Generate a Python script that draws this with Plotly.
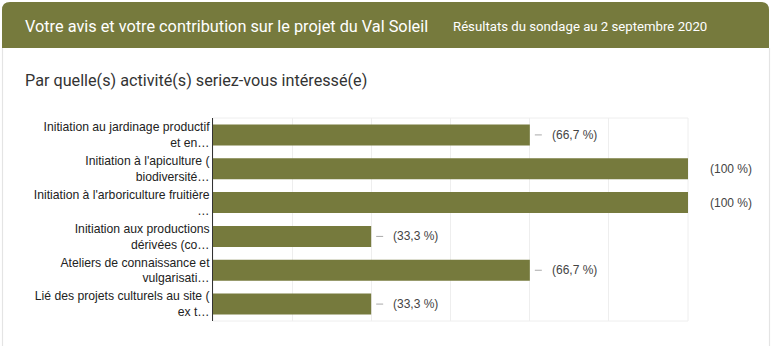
import plotly.graph_objects as go

categories = [
    "Initiation au jardinage productif<br>et en…",
    "Initiation à l'apiculture (<br>biodiversité…",
    "Initiation à l'arboriculture fruitière<br>…",
    "Initiation aux productions<br>dérivées (co…",
    "Ateliers de connaissance et<br>vulgarisati…",
    "Lié des projets culturels au site (<br>ex t…",
]
values = [66.7, 100, 100, 33.3, 66.7, 33.3]

title_text = "Votre avis et votre contribution sur le projet du Val Soleil"
subtitle_text = "Résultats du sondage au 2 septembre 2020"
question_text = "Par quelle(s) activité(s) seriez-vous intéressé(e)"

W, H = 772, 346
L, R, T, B = 213, 84, 118, 25
PW, PH = W - L - R, H - T - B
OLIVE = "#767a3d"


def px(x):
    return (x - L) / PW


def py(y):
    return (H - B - y) / PH


def fmt(v):
    s = ("%.1f" % v).replace(".", ",")
    if s.endswith(",0"):
        s = s[:-2]
    return "(" + s + " %)"


fig = go.Figure()
fig.add_trace(go.Bar(
    x=values, y=categories, orientation="h",
    marker=dict(color=OLIVE, line=dict(width=0)),
    hoverinfo="skip",
))

shapes = []
annotations = []
# header band with rounded top corners
x0, x1, y0, y1, r = px(2), px(769), py(2), py(48), 8
rx, ry = r / PW, r / PH
path = (f"M {x0},{y1} L {x0},{y0 - ry} Q {x0},{y0} {x0 + rx},{y0} "
        f"L {x1 - rx},{y0} Q {x1},{y0} {x1},{y0 - ry} L {x1},{y1} Z")
shapes.append(dict(type="path", xref="paper", yref="paper", path=path,
                   fillcolor=OLIVE, line=dict(width=0), layer="below"))
# card borders
for xb in (2.5, 769.5):
    shapes.append(dict(type="line", xref="paper", yref="paper",
                       x0=px(xb), x1=px(xb), y0=py(48), y1=py(346),
                       line=dict(color="#e4e4e4", width=1.2)))
# plot frame (top, right, bottom)
shapes.append(dict(type="rect", xref="paper", yref="paper", x0=0, x1=1, y0=0, y1=1,
                   line=dict(color="#eeeeee", width=1), layer="below"))

for i, v in enumerate(values):
    shapes.append(dict(type="line", xref="x", yref="y", xsizemode="pixel",
                       xanchor=v, x0=5, x1=12, y0=i, y1=i,
                       line=dict(color="#aaaaaa", width=1)))
    annotations.append(dict(x=v, y=i, xref="x", yref="y", text=fmt(v),
                            showarrow=False, xanchor="left", xshift=20,
                            font=dict(family="Arial, Liberation Sans", size=12, color="#444444")))

annotations.append(dict(x=px(23), y=py(26), xref="paper", yref="paper", text=title_text,
                        showarrow=False, xanchor="left", yanchor="middle",
                        font=dict(family="Roboto", size=16.3, color="#ffffff")))
annotations.append(dict(x=px(451), y=py(26), xref="paper", yref="paper", text=subtitle_text,
                        showarrow=False, xanchor="left", yanchor="middle",
                        font=dict(family="Roboto", size=13.2, color="#ffffff")))
annotations.append(dict(x=px(23), y=py(81), xref="paper", yref="paper", text=question_text,
                        showarrow=False, xanchor="left", yanchor="middle",
                        font=dict(family="Roboto", size=16.2, color="#333333")))

fig.update_layout(
    width=W, height=H,
    margin=dict(l=L, r=R, t=T, b=B, pad=0),
    paper_bgcolor="#ffffff", plot_bgcolor="#ffffff",
    showlegend=False, bargap=0.38,
    shapes=shapes, annotations=annotations,
    xaxis=dict(range=[0, 100], dtick=100 / 6, showticklabels=False,
               showgrid=True, gridcolor="#eeeeee", gridwidth=1,
               zeroline=False, showline=False, fixedrange=True),
    yaxis=dict(autorange="reversed", showline=True, linecolor="#333333", linewidth=1,
               ticks="", showgrid=False, zeroline=False, fixedrange=True,
               tickfont=dict(family="Arial, Liberation Sans", size=12.2, color="#222222")),
)

fig.write_html("out.html")
